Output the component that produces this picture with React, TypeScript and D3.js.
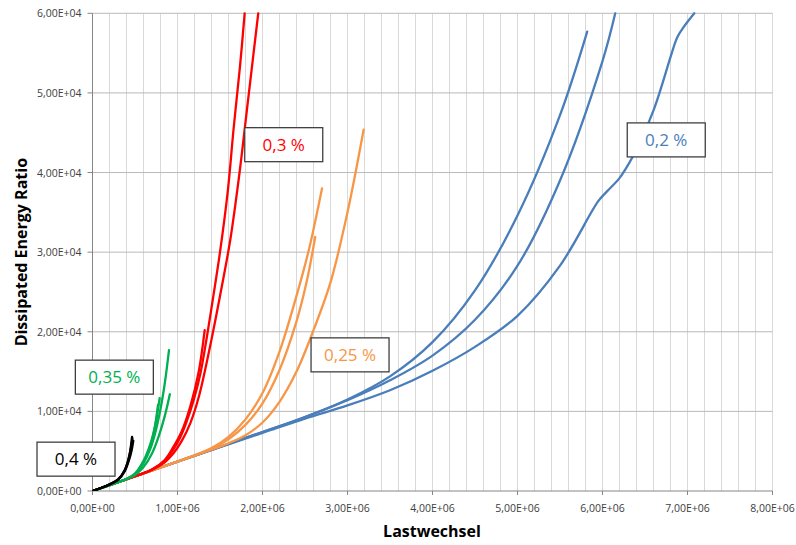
import React from "react";
import * as d3 from "d3";

type Pt = [number, number];

// Cycle count (Lastwechsel) vs. dissipated energy ratio, grouped by strain amplitude
const blueA: Pt[] = [[0,0],[1.0e6,3700],[2.0e6,7400],[2.5e6,9300],[3.0e6,11500],[3.5e6,14400],[4.0e6,18700],[4.5e6,25200],[5.0e6,34600],[5.5e6,47200],[5.82e6,57700]];
const blueB: Pt[] = [[0,0],[1.0e6,3700],[2.0e6,7400],[2.5e6,9300],[3.0e6,11400],[3.5e6,13900],[4.0e6,17000],[4.5e6,21500],[5.0e6,28300],[5.5e6,39000],[6.0e6,54000],[6.15e6,60000]];
const blueC: Pt[] = [[0,0],[1.0e6,3700],[2.0e6,7300],[2.5e6,9100],[3.0e6,10750],[3.5e6,12650],[4.0e6,15100],[4.5e6,18100],[5.0e6,22000],[5.5e6,28300],[5.95e6,36400],[6.05e6,37600],[6.2e6,39300],[6.32e6,41300],[6.45e6,44000],[6.6e6,47800],[6.7e6,51000],[6.8e6,54500],[6.88e6,57000],[6.95e6,58200],[7.08e6,60000]];

const orange1: Pt[] = [[0,0],[1.0e6,3700],[1.4e6,5400],[1.6e6,6800],[1.8e6,9000],[2.0e6,12300],[2.2e6,17500],[2.4e6,24500],[2.55e6,30500],[2.7e6,38000]];
const orange2: Pt[] = [[0,0],[1.0e6,3700],[1.4e6,5300],[1.6e6,6500],[1.8e6,8300],[2.0e6,11000],[2.2e6,15200],[2.4e6,21300],[2.52e6,26300],[2.62e6,31900]];
const orange3: Pt[] = [[0,0],[1.0e6,3700],[1.4e6,5200],[1.6e6,6000],[1.8e6,7000],[2.0e6,8600],[2.2e6,11200],[2.4e6,15000],[2.6e6,20200],[2.8e6,26200],[3.0e6,35000],[3.19e6,45400]];

const redA: Pt[] = [[0,0],[0.5e6,1850],[0.7e6,2700],[0.85e6,3800],[0.95e6,5200],[1.03e6,6700],[1.1e6,8500],[1.19e6,11400],[1.27e6,14800],[1.34e6,19000],[1.4e6,23000],[1.5e6,30000],[1.59e6,37500],[1.66e6,45500],[1.735e6,53300],[1.79e6,60000]];
const redB: Pt[] = [[0,0],[0.5e6,1850],[0.7e6,2650],[0.85e6,3600],[0.95e6,4700],[1.05e6,6300],[1.15e6,8500],[1.25e6,11800],[1.38e6,18000],[1.5e6,24500],[1.62e6,31500],[1.73e6,40000],[1.83e6,49100],[1.95e6,60000]];
const redC: Pt[] = [[0,0],[0.5e6,1850],[0.7e6,2700],[0.85e6,3900],[0.95e6,5500],[1.05e6,7500],[1.15e6,10600],[1.25e6,15000],[1.32e6,20200]];

const green1: Pt[] = [[0,0],[0.3e6,1100],[0.4e6,1500],[0.5e6,2100],[0.6e6,3500],[0.68e6,5300],[0.74e6,7400],[0.8e6,10300],[0.85e6,13500],[0.9e6,17700]];
const green2: Pt[] = [[0,0],[0.3e6,1100],[0.4e6,1500],[0.5e6,2000],[0.6e6,3000],[0.7e6,4700],[0.78e6,6900],[0.85e6,9400],[0.91e6,12150]];
const green3: Pt[] = [[0,0],[0.3e6,1100],[0.4e6,1500],[0.5e6,2200],[0.6e6,3800],[0.68e6,5900],[0.74e6,8400],[0.79e6,11650]];
const green4: Pt[] = [[0,0],[0.3e6,1100],[0.4e6,1500],[0.5e6,2150],[0.6e6,3600],[0.68e6,5600],[0.73e6,7800],[0.77e6,10800]];

const black1: Pt[] = [[0,0],[0.1e6,380],[0.2e6,820],[0.3e6,1400],[0.38e6,2600],[0.42e6,3800],[0.44e6,4700],[0.455e6,5900],[0.465e6,6800]];
const black2: Pt[] = [[0,0],[0.1e6,380],[0.2e6,820],[0.3e6,1400],[0.38e6,2500],[0.43e6,3900],[0.46e6,5100],[0.48e6,6300]];
const black3: Pt[] = [[0,0],[0.1e6,380],[0.2e6,830],[0.3e6,1450],[0.38e6,2650],[0.42e6,3900],[0.45e6,5300],[0.47e6,6600]];

// Groups in drawing order (later ones on top)
const groups = [
  { name: "0,2 %", color: "#4a7ebb", series: [blueA, blueB, blueC], label: [6.75e6, 44100] as Pt },
  { name: "0,25 %", color: "#f79646", series: [orange1, orange2, orange3], label: [3.03e6, 17100] as Pt },
  { name: "0,3 %", color: "#ff0000", series: [redA, redB, redC], label: [2.25e6, 43500] as Pt },
  { name: "0,35 %", color: "#00b050", series: [green1, green2, green3, green4], label: [0.257e6, 14300] as Pt },
  { name: "0,4 %", color: "#000000", series: [black1, black2, black3], label: [-0.194e6, 4000] as Pt },
];

const xTickValues = [0, 1e6, 2e6, 3e6, 4e6, 5e6, 6e6, 7e6, 8e6];
const xTickLabels = ["0,00E+00", "1,00E+06", "2,00E+06", "3,00E+06", "4,00E+06", "5,00E+06", "6,00E+06", "7,00E+06", "8,00E+06"];
const yTickValues = [0, 1e4, 2e4, 3e4, 4e4, 5e4, 6e4];
const yTickLabels = ["0,00E+00", "1,00E+04", "2,00E+04", "3,00E+04", "4,00E+04", "5,00E+04", "6,00E+04"];
const xMinorStep = 2e5;

const W = 796;
const H = 545;
const plot = { left: 92.5, right: 772.5, top: 13.3, bottom: 491 };
const FONT = "'Open Sans', 'Liberation Sans', sans-serif";

export default function App() {
  const x = d3.scaleLinear().domain([0, 8e6]).range([plot.left, plot.right]);
  const y = d3.scaleLinear().domain([0, 6e4]).range([plot.bottom, plot.top]);
  const line = d3
    .line<Pt>()
    .x((d) => x(d[0]))
    .y((d) => y(d[1]))
    .curve(d3.curveCatmullRom.alpha(0.5));

  const minor = d3.range(0, 8e6 + 1, xMinorStep);
  const boxW = 78;
  const boxH = 34;

  return (
    <svg
      width={W}
      height={H}
      style={{ position: "absolute", left: 0, top: 0, background: "#fff" }}
      fontFamily={FONT}
    >
      <defs>
        <clipPath id="plot-clip">
          <rect x={plot.left} y={plot.top - 2} width={plot.right - plot.left + 2} height={plot.bottom - plot.top + 2} />
        </clipPath>
      </defs>

      {/* vertical grid */}
      {minor.map((v) => (
        <line key={"v" + v} x1={x(v)} x2={x(v)} y1={plot.top} y2={plot.bottom} stroke="#d9d9d9" strokeWidth={1} />
      ))}
      {/* horizontal grid */}
      {yTickValues.slice(1).map((v) => (
        <line key={"h" + v} x1={plot.left} x2={plot.right} y1={y(v)} y2={y(v)} stroke="#b9b9b9" strokeWidth={1} />
      ))}

      {/* axes */}
      <line x1={plot.left} x2={plot.right} y1={plot.bottom} y2={plot.bottom} stroke="#868686" strokeWidth={1} />
      <line x1={plot.left} x2={plot.left} y1={plot.top} y2={plot.bottom} stroke="#868686" strokeWidth={1} />
      {xTickValues.map((v, i) => (
        <g key={"xt" + v}>
          <line x1={x(v)} x2={x(v)} y1={plot.bottom} y2={plot.bottom + 4} stroke="#868686" />
          <text x={x(v)} y={plot.bottom + 20.5} textAnchor="middle" fontSize={10.5} fill="#404040">
            {xTickLabels[i]}
          </text>
        </g>
      ))}
      {yTickValues.map((v, i) => (
        <g key={"yt" + v}>
          <line x1={plot.left - 5} x2={plot.left} y1={y(v)} y2={y(v)} stroke="#868686" />
          <text x={81.5} y={y(v) + 4} textAnchor="end" fontSize={10.5} fill="#404040">
            {yTickLabels[i]}
          </text>
        </g>
      ))}

      {/* series */}
      <g clipPath="url(#plot-clip)">
        {groups.map((g) =>
          g.series.map((s, j) => (
            <path
              key={g.name + j}
              d={line(s) ?? ""}
              fill="none"
              stroke={g.color}
              strokeWidth={2.3}
              strokeLinejoin="round"
              strokeLinecap="round"
            />
          ))
        )}
      </g>

      {/* group labels */}
      {groups.map((g) => (
        <g key={"lab" + g.name}>
          <rect
            x={x(g.label[0]) - boxW / 2}
            y={y(g.label[1]) - boxH / 2}
            width={boxW}
            height={boxH}
            fill="#fff"
            stroke="#404040"
            strokeWidth={1.3}
          />
          <text
            x={x(g.label[0])}
            y={y(g.label[1]) + 6}
            textAnchor="middle"
            fontSize={17}
            fill={g.color}
          >
            {g.name}
          </text>
        </g>
      ))}

      {/* axis titles */}
      <text x={(plot.left + plot.right) / 2 - 0.5} y={537} textAnchor="middle" fontSize={16} fontWeight="bold" fill="#000">
        Lastwechsel
      </text>
      <text
        transform={`translate(27,${(plot.top + plot.bottom) / 2}) rotate(-90)`}
        textAnchor="middle"
        fontSize={16}
        fontWeight="bold"
        fill="#000"
      >
        Dissipated Energy Ratio
      </text>
    </svg>
  );
}
